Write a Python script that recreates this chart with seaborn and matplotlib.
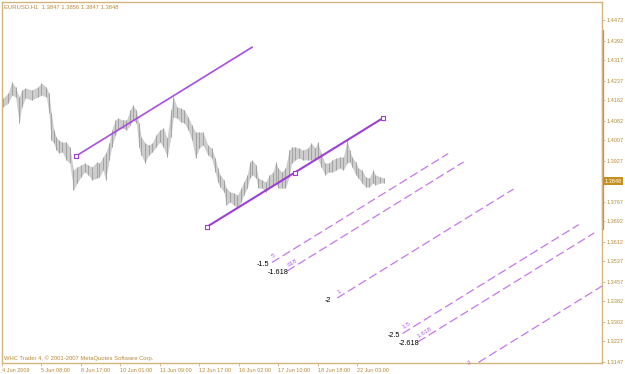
"""
EURUSD H1 chart with trend channel and Fibonacci channel levels (MT4 style).
Output: out.png
"""

import matplotlib
matplotlib.use("Agg")
import matplotlib.pyplot as plt
import matplotlib.transforms as mtransforms
import seaborn as sns

# ==========================================
# 1. DATA
# ==========================================
# H1 bar index counted from 4 Jun 2009 00:00, grouped high / low
bar_idx = [1, 5, 8, 11, 14, 16, 19, 24, 29, 32, 36, 38, 40, 42, 44, 46, 49, 52, 55, 58,
           61, 64, 67, 70, 73, 77, 79, 82, 84, 87, 89, 92, 94, 98, 101, 104, 106, 109, 111, 113,
           116, 119, 122, 125, 128, 131, 134, 137, 139, 142, 145, 148, 151, 154, 157, 160, 163, 167, 170, 173,
           175, 177, 180, 182, 185, 188, 191, 194, 196, 199, 201, 203, 206, 208, 211, 214, 217, 220, 222, 224,
           227, 230, 233, 235, 238, 241, 244, 248, 251, 254, 256, 259, 262, 265, 268, 271, 274, 277, 280, 282,
           284, 287, 289, 292, 295, 298, 301, 303, 307, 310]
bar_high = [1.4170, 1.4189, 1.4232, 1.4212, 1.4174, 1.4201, 1.4209, 1.4201, 1.4212, 1.4228,
            1.4212, 1.4189, 1.4112, 1.4046, 1.4019, 1.4007, 1.3999, 1.3999, 1.3980, 1.3891,
            1.3903, 1.3910, 1.3918, 1.3910, 1.3903, 1.3922, 1.3918, 1.3941, 1.3957, 1.3996,
            1.4046, 1.4085, 1.4092, 1.4085, 1.4085, 1.4123, 1.4143, 1.4123, 1.4073, 1.4019,
            1.3996, 1.3988, 1.3996, 1.4027, 1.4046, 1.4054, 1.4015, 1.4123, 1.4174, 1.4135,
            1.4131, 1.4123, 1.4096, 1.4065, 1.4038, 1.4038, 1.4038, 1.3988, 1.3976, 1.3937,
            1.3899, 1.3872, 1.3852, 1.3821, 1.3806, 1.3802, 1.3794, 1.3821, 1.3844, 1.3872,
            1.3922, 1.3930, 1.3910, 1.3860, 1.3852, 1.3844, 1.3872, 1.3883, 1.3922, 1.3899,
            1.3883, 1.3899, 1.3968, 1.3980, 1.3980, 1.3976, 1.3968, 1.3976, 1.3996, 1.3976,
            1.3999, 1.3957, 1.3918, 1.3918, 1.3930, 1.3937, 1.3941, 1.3941, 1.4007, 1.3968,
            1.3941, 1.3922, 1.3899, 1.3891, 1.3864, 1.3860, 1.3891, 1.3872, 1.3864, 1.3860]
bar_low = [1.4135, 1.4150, 1.4181, 1.4174, 1.4073, 1.4135, 1.4170, 1.4162, 1.4174, 1.4181,
           1.4174, 1.4112, 1.4007, 1.3996, 1.3968, 1.3957, 1.3961, 1.3930, 1.3918, 1.3813,
           1.3841, 1.3864, 1.3883, 1.3872, 1.3852, 1.3860, 1.3864, 1.3891, 1.3852, 1.3930,
           1.3980, 1.4027, 1.4046, 1.4054, 1.4046, 1.4065, 1.4085, 1.4073, 1.3980, 1.3949,
           1.3918, 1.3949, 1.3961, 1.3980, 1.3999, 1.3980, 1.3941, 1.4019, 1.4096, 1.4092,
           1.4077, 1.4073, 1.4046, 1.4007, 1.3937, 1.3976, 1.3988, 1.3949, 1.3937, 1.3883,
           1.3844, 1.3825, 1.3806, 1.3755, 1.3767, 1.3755, 1.3744, 1.3767, 1.3794, 1.3821,
           1.3860, 1.3872, 1.3860, 1.3821, 1.3821, 1.3806, 1.3821, 1.3833, 1.3844, 1.3821,
           1.3821, 1.3821, 1.3864, 1.3918, 1.3930, 1.3937, 1.3930, 1.3930, 1.3930, 1.3930,
           1.3937, 1.3903, 1.3872, 1.3883, 1.3883, 1.3891, 1.3899, 1.3891, 1.3918, 1.3922,
           1.3903, 1.3872, 1.3860, 1.3841, 1.3825, 1.3825, 1.3841, 1.3833, 1.3841, 1.3841]

# Trend line (anchor points) and its parallel line start
trend_bars = [166, 309]
trend_prices = [1.3670, 1.4092]
parallel_start = (60, 1.3945)

# Fibonacci channel levels
fibo_levels = [1.5, 1.618, 2.0, 2.5, 2.618, 3.0]
fibo_labels = ["-1.5", "-1.618", "-2", "-2.5", "-2.618", None]
fibo_descr = ["5", "618", "1", "1.5", "1.618", "2"]

x_tick_bars = [0, 32, 64, 96, 128, 160, 192, 224, 256, 288]
x_tick_labels = ["4 Jun 2009", "5 Jun 08:00", "8 Jun 17:00", "10 Jun 01:00", "11 Jun 09:00",
                 "12 Jun 17:00", "16 Jun 02:00", "17 Jun 10:00", "18 Jun 18:00", "22 Jun 03:00"]
y_ticks = [1.4472, 1.4392, 1.4317, 1.4237, 1.4162, 1.4082, 1.4007, 1.3927, 1.3767, 1.3692,
           1.3612, 1.3537, 1.3457, 1.3382, 1.3302, 1.3227, 1.3147]
last_price = 1.3848
range_marker = (1.3658, 1.4433)
header = "EURUSD,H1  1.3847 1.3856 1.3847 1.3848"
footer = "WHC Trader 4, \u00a9 2001-2007 MetaQuotes Software Corp."

# ==========================================
# 2. STYLE
# ==========================================
sns.set_theme(style="white")
plt.rcParams['font.family'] = ['Liberation Sans', 'DejaVu Sans']

GOLD_TEXT = "#B98B3A"
GOLD_LINE = "#D4B47E"
GOLD_DARK = "#C4901E"
PURPLE = "#9E3ED6"
PURPLE_LIGHT = "#C777EE"

fig = plt.figure(figsize=(6.25, 3.74), dpi=100)
ax = fig.add_axes([2 / 625, 11 / 374, 600 / 625, 361 / 374])
ax.set_xlim(0, 486.8)
ax.set_ylim(1.3143, 1.4542)

# ==========================================
# 3. PRICE BARS
# ==========================================
ax.fill_between(bar_idx, bar_low, bar_high, color="#CDCDCD", linewidth=0)
ax.vlines(bar_idx, bar_low, bar_high, color="#A2A2A2", linewidth=0.7)

# ==========================================
# 4. TREND CHANNEL
# ==========================================
d_bar = trend_bars[1] - trend_bars[0]
d_price = trend_prices[1] - trend_prices[0]

sns.lineplot(x=trend_bars, y=trend_prices, ax=ax, color=PURPLE, linewidth=1.5, sort=False)
par_x = [parallel_start[0], parallel_start[0] + d_bar]
par_y = [parallel_start[1], parallel_start[1] + d_price]
sns.lineplot(x=par_x, y=par_y, ax=ax, color="#A94EE0", linewidth=1.2, sort=False)

mark_x = [trend_bars[0], (trend_bars[0] + trend_bars[1]) / 2, trend_bars[1], parallel_start[0]]
mark_y = [trend_prices[0], (trend_prices[0] + trend_prices[1]) / 2, trend_prices[1], parallel_start[1]]
ax.scatter(mark_x, mark_y, marker="s", s=9, facecolor="white", edgecolor=PURPLE, linewidth=0.8, zorder=5)

# Fibonacci channel: shift from parallel start toward trend start
step_bar = trend_bars[0] - parallel_start[0]
step_price = trend_prices[0] - parallel_start[1]
for lvl, lab, desc in zip(fibo_levels, fibo_labels, fibo_descr):
    x0 = parallel_start[0] + lvl * step_bar
    y0 = parallel_start[1] + lvl * step_price
    ax.plot([x0, x0 + d_bar], [y0, y0 + d_price], color=PURPLE_LIGHT,
            linewidth=0.9, linestyle=(0, (7, 3)))
    ax.annotate(desc, (x0, y0), xytext=(1, 2.5), textcoords="offset points",
                rotation=31.6, rotation_mode="anchor", ha="left", va="bottom",
                fontsize=4.6, color="#B65AE6", annotation_clip=False)
    if lab:
        ax.annotate(lab, (x0, y0), xytext=(-6.5, -1.5), textcoords="offset points",
                    ha="center", va="center", fontsize=5.2, color="black")

# ==========================================
# 5. AXES (MT4 look)
# ==========================================
for sp in ax.spines.values():
    sp.set_color(GOLD_LINE)
    sp.set_linewidth(1.0)

ax.yaxis.tick_right()
ax.set_yticks(y_ticks)
ax.set_yticklabels([f"{v:.4f}" for v in y_ticks])
ax.set_xticks(x_tick_bars)
ax.set_xticklabels(x_tick_labels)
for lab in ax.get_xticklabels():
    lab.set_ha("left")
ax.tick_params(axis="y", which="both", right=True, left=False, length=2.5, width=0.6,
               color=GOLD_LINE, labelcolor=GOLD_TEXT, labelsize=4, pad=1)
ax.tick_params(axis="x", which="both", bottom=True, length=2.5, width=0.6,
               color=GOLD_LINE, labelcolor=GOLD_TEXT, labelsize=4, pad=1)
ax.grid(False)

# visible-range marker on the price scale
trans = mtransforms.blended_transform_factory(ax.transAxes, ax.transData)
ax.plot([1.002, 1.002], list(range_marker), transform=trans, color=GOLD_DARK,
        linewidth=1.6, clip_on=False, solid_capstyle="butt")

# current price box
ax.annotate(f"{last_price:.4f}", (1.0, last_price), xycoords=trans, xytext=(2, 0),
            textcoords="offset points", ha="left", va="center", fontsize=4, color="white",
            bbox=dict(boxstyle="square,pad=0.25", fc=GOLD_DARK, ec="none"),
            annotation_clip=False)

fig.text(4 / 625, 1 - 7 / 374, header, fontsize=4.2, color=GOLD_TEXT, ha="left", va="center")
fig.text(4 / 625, 1 - 358 / 374, footer, fontsize=4.2, color=GOLD_TEXT, ha="left", va="center")

plt.savefig("out.png", dpi=100)
plt.close()
